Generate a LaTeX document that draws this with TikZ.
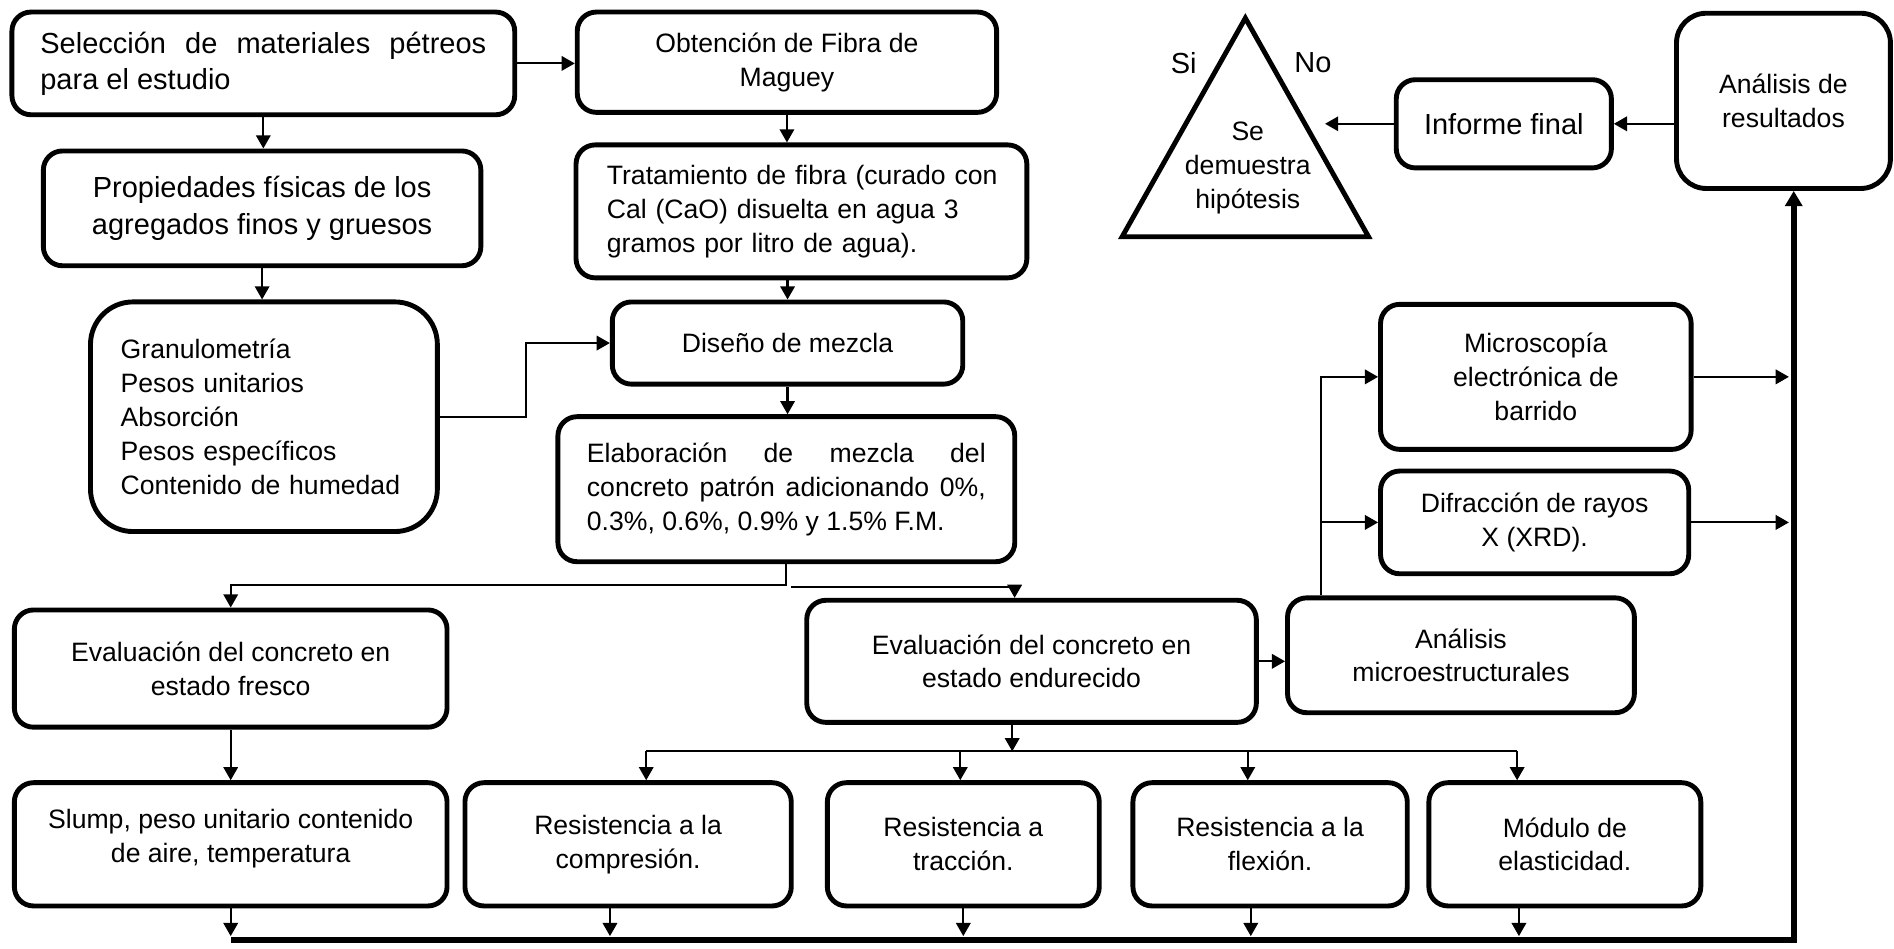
\documentclass[tikz,border=0pt]{standalone}
\usepackage{fontspec}
\setmainfont{Liberation Sans}
\usetikzlibrary{arrows.meta,calc}
\newcommand\fbig{\fontsize{6.83pt}{8.5pt}\selectfont}
\newcommand\fsmall{\fontsize{6.26pt}{7.97pt}\selectfont}
\begin{document}
\begin{tikzpicture}[x=0.01cm,y=-0.01cm,
  box/.style={draw, line width=1.15pt, rounded corners=4.5pt, inner sep=0pt, align=center, font=\fsmall},
  arr/.style={line width=0.5pt, -{Triangle[length=3.1pt,width=3.4pt]}},
  ln/.style={line width=0.5pt},
  busln/.style={line width=1.3pt, line join=miter, -{Triangle[length=3.6pt,width=4pt]}}
  ]
\useasboundingbox (0,0) rectangle (1568,785);
% boxes
\node[box, minimum width=4.16cm, minimum height=0.85cm, text width=3.69cm, align=justify, font=\fbig] (A) at (218,52.5) {Selección de materiales pétreos\linebreak para el estudio};
\node[box, minimum width=3.47cm, minimum height=0.83cm] (B) at (651.5,51.5) {Obtención de Fibra de\\Maguey};
\node[box, minimum width=3.62cm, minimum height=0.95cm, font=\fbig] (C) at (217,172.5) {Propiedades físicas de los\\agregados finos y gruesos};
\node[box, minimum width=3.73cm, minimum height=1.10cm, text width=3.30cm, align=left] (E) at (663.5,175) {\hspace{0.04cm}Tratamiento de fibra (curado con\\\hspace*{0.04cm}Cal (CaO) disuelta en agua 3\\\hspace*{0.04cm}gramos por litro de agua).};
\node[box, rounded corners=10pt, minimum width=2.87cm, minimum height=1.90cm, text width=2.37cm, align=left] (D) at (218.5,345) {Granulometría\\Pesos unitarios\\Absorción\\Pesos específicos\\Contenido de humedad};
\node[box, minimum width=2.90cm, minimum height=0.68cm] (F) at (652,284) {Diseño de mezcla};
\node[box, minimum width=3.78cm, minimum height=1.20cm, text width=3.30cm, align=justify] (G) at (651,405) {Elaboración de mezcla del\linebreak concreto patrón adicionando 0\%,\linebreak 0.3\%, 0.6\%, 0.9\% y 1.5\% F.M.};
\node[box, minimum width=3.58cm, minimum height=0.97cm] (H) at (191,553.5) {Evaluación del concreto en\\estado fresco};
\node[box, minimum width=3.72cm, minimum height=1.01cm] (I) at (854,547.5) {Evaluación del concreto en\\estado endurecido};
\node[box, minimum width=2.87cm, minimum height=0.95cm] (K) at (1209.5,542.5) {Análisis\\microestructurales};
\node[box, minimum width=2.57cm, minimum height=1.20cm] (M) at (1271.5,312) {Microscopía\\electrónica de\\barrido};
\node[box, minimum width=2.55cm, minimum height=0.85cm] (X) at (1270.5,432.5) {Difracción de rayos\\X (XRD).};
\node[box, rounded corners=7pt, minimum width=1.77cm, minimum height=1.45cm] (R) at (1476.5,83.5) {Análisis de\\resultados};
\node[box, minimum width=1.78cm, minimum height=0.73cm, font=\fbig] (IF) at (1245,102.5) {Informe final};
\node[box, minimum width=3.58cm, minimum height=1.02cm] (J) at (191,699) {Slump, peso unitario contenido\\de aire, temperatura\\[-0.14cm]};
\node[box, minimum width=2.70cm, minimum height=1.02cm] (L1) at (520,699) {Resistencia a la\\compresión.};
\node[box, minimum width=2.25cm, minimum height=1.02cm] (L2) at (797.5,699) {Resistencia a\\tracción.};
\node[box, minimum width=2.27cm, minimum height=1.02cm] (L3) at (1051.5,699) {Resistencia a la\\flexión.};
\node[box, minimum width=2.25cm, minimum height=1.02cm] (L4) at (1295.5,699) {Módulo de\\elasticidad.};
% triangle
\draw[line width=1.15pt, line join=miter] (1031,15) -- (1133,196) -- (929,196) -- cycle;
\node[font=\fsmall, align=center, inner sep=0pt] (hyp) at (1033,139) {Se\\demuestra\\hipótesis};
\node[font=\fbig, inner sep=0pt] (si) at (980,52) {Si};
\node[font=\fbig, inner sep=0pt] (no) at (1087,52) {No};
% connectors
\draw[arr] (A.east) -- (A.east -| B.west);
\draw[arr] (A.south) -- (A.south |- C.north);
\draw[arr] (C.south) -- (C.south |- D.north);
\draw[arr] (B.south) -- (B.south |- E.north);
\draw[arr] (F.north |- E.south) -- (F.north);
\draw[arr] (D.east) -- ++(71,0) |- (F.west);
\draw[arr] (F.south) -- (F.south |- G.north);
\draw[arr] (G.south) -- ++(0,17) -| (H.north);
\coordinate (g2) at ($(G.south)+(4,19)$);
\coordinate (i2) at ($(I.north)+(-14,0)$);
\draw[arr] (g2) -| (i2);
\draw[arr] (H.south) -- (J.north);
\draw[arr] (I.east) -- (I.east -| K.west);
\coordinate (k1) at ($(K.north west)+(30,0)$);
\draw[arr] (k1) |- (M.west);
\draw[arr] (k1 |- X.west) -- (X.west);
\coordinate (bus) at (1485,778);
\draw[arr] (M.east) -- ($(M.east -| bus)+(-4,0)$);
\draw[arr] (X.east) -- ($(X.east -| bus)+(-4,0)$);
\draw[arr] (IF.east -| R.west) -- (IF.east);
\coordinate (tip) at (1097,102.5);
\draw[arr] (IF.west) -- (tip);
% lower distribution
\coordinate (is) at ($(I.south)+(-16,0)$);
\coordinate (d1) at (535,622);
\coordinate (d2) at (795,622);
\coordinate (d3) at (1033,622);
\coordinate (d4) at (1256,622);
\draw[arr] (is) -- (is |- d1);
\draw[ln] (d1) -- (d4);
\draw[arr] (d1) -- (d1 |- L1.north);
\draw[arr] (d2) -- (d2 |- L2.north);
\draw[arr] (d3) -- (d3 |- L3.north);
\draw[arr] (d4) -- (d4 |- L4.north);
% bottom bus
\coordinate (u1) at ($(L1.south)+(-15,0)$);
\coordinate (u2) at ($(L2.south)+(0,0)$);
\coordinate (u3) at ($(L3.south)+(-16,0)$);
\coordinate (u4) at ($(L4.south)+(-38,0)$);
\draw[arr] (J.south) -- ($(J.south |- bus)+(0,-3)$);
\draw[arr] (u1) -- ($(u1 |- bus)+(0,-3)$);
\draw[arr] (u2) -- ($(u2 |- bus)+(0,-3)$);
\draw[arr] (u3) -- ($(u3 |- bus)+(0,-3)$);
\draw[arr] (u4) -- ($(u4 |- bus)+(0,-3)$);
\draw[busln] (J.south |- bus) -- (bus) -- (bus |- R.south);
\end{tikzpicture}
\end{document}
